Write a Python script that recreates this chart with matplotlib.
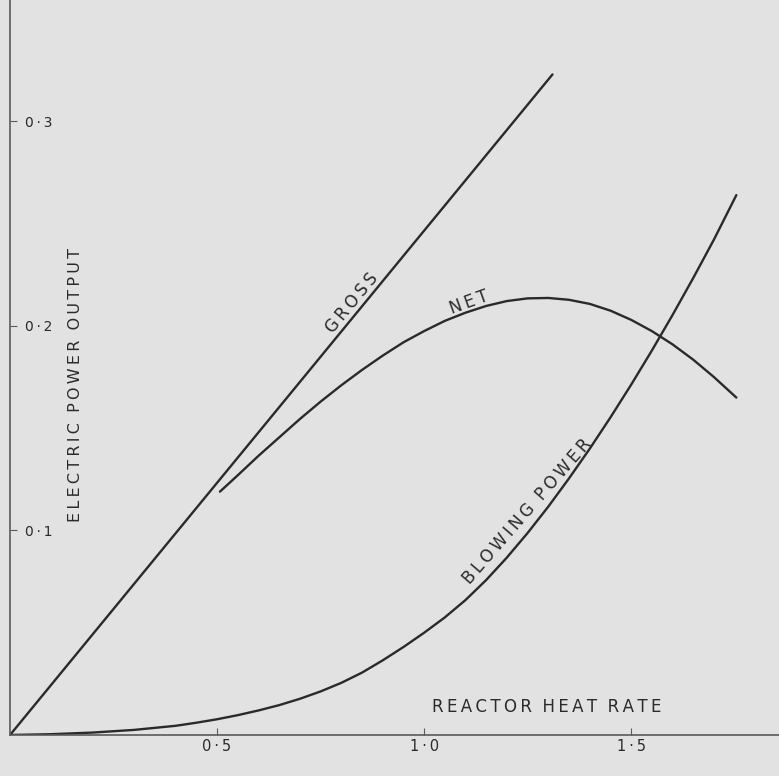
import numpy as np
import matplotlib
matplotlib.use("Agg")
import matplotlib.pyplot as plt

# values
gross_x = [0.0, 0.5, 1.0, 1.31]
gross_y = [0.0, 0.1233, 0.2466, 0.323]

net_x = [0.507, 0.55, 0.60, 0.65, 0.70, 0.75, 0.80, 0.85, 0.90, 0.95, 1.00, 1.05, 1.10,
         1.15, 1.20, 1.25, 1.30, 1.35, 1.40, 1.45, 1.50, 1.55, 1.60, 1.65, 1.70, 1.754]
net_y = [0.119, 0.127, 0.1365, 0.1455, 0.1545, 0.163, 0.171, 0.1785, 0.1855, 0.192, 0.1975,
         0.2025, 0.2065, 0.2098, 0.2122, 0.2135, 0.2137, 0.2128, 0.2108, 0.2075, 0.2030,
         0.1975, 0.1910, 0.1835, 0.1750, 0.1650]

blow_x = [0.0, 0.1, 0.2, 0.3, 0.4, 0.45, 0.5, 0.55, 0.6, 0.65, 0.7, 0.75, 0.8, 0.85, 0.9,
          0.95, 1.0, 1.05, 1.1, 1.15, 1.2, 1.25, 1.3, 1.35, 1.4, 1.45, 1.5, 1.55, 1.6,
          1.65, 1.7, 1.754]
blow_y = [0.0, 0.0004, 0.0012, 0.0025, 0.0045, 0.0060, 0.0077, 0.0097, 0.0120, 0.0146,
          0.0177, 0.0213, 0.0255, 0.0305, 0.0365, 0.0430, 0.0500, 0.0575, 0.0660, 0.0758,
          0.0868, 0.0988, 0.1117, 0.1255, 0.1400, 0.1553, 0.1713, 0.1880, 0.2054, 0.2235,
          0.2423, 0.2640]

x_ticks = [0.5, 1.0, 1.5]
x_ticklabels = ["0·5", "1·0", "1·5"]
y_ticks = [0.1, 0.2, 0.3]
y_ticklabels = ["0·1", "0·2", "0·3"]

ink = "#2a2a2a"
paper = "#e2e2e2"
ts = "\u2009"  # thin space for the wide lettering


def spaced(s):
    return "  ".join(ts.join(word) for word in s.split())


fig = plt.figure(figsize=(7.79, 7.76), dpi=100, facecolor=paper)
ax = fig.add_axes([10 / 779, 41 / 776, 1 - 10 / 779, 1 - 41 / 776])
ax.set_facecolor(paper)

line_kw = dict(color=ink, lw=1.7, solid_joinstyle="round", solid_capstyle="round")
ax.plot(gross_x, gross_y, **line_kw)
ax.plot(net_x, net_y, **line_kw)
ax.plot(blow_x, blow_y, **line_kw)

ax.set_xlim(0, 1.857)
ax.set_ylim(0, 0.3594)

for side in ["top", "right"]:
    ax.spines[side].set_visible(False)
for side in ["left", "bottom"]:
    ax.spines[side].set_color("#5a5a5a")
    ax.spines[side].set_linewidth(1.2)

ax.set_xticks(x_ticks)
ax.set_xticklabels([ts.join(t) for t in x_ticklabels])
ax.set_yticks(y_ticks)
ax.set_yticklabels([ts.join(t) for t in y_ticklabels])
ax.tick_params(axis="both", direction="in", length=5, color="#5a5a5a",
               labelsize=10.5, labelcolor=ink)
ax.tick_params(axis="x", pad=3)
ax.tick_params(axis="y", pad=-11, labelsize=10)
for lab in ax.get_yticklabels():
    lab.set_ha("left")

txt = dict(color=ink, ha="center", va="center", rotation_mode="anchor")
ax.text(0.157, 0.171, spaced("ELECTRIC POWER OUTPUT"), rotation=90, fontsize=11.5, **txt)
ax.text(1.297, 0.0137, spaced("REACTOR HEAT RATE"), rotation=0, fontsize=12, **txt)
ax.text(0.826, 0.2112, spaced("GROSS"), rotation=50.5, fontsize=12, **txt)
ax.text(1.109, 0.2117, spaced("NET"), rotation=20, fontsize=12, **txt)
ax.text(1.249, 0.1095, spaced("BLOWING POWER"), rotation=49, fontsize=12, **txt)

fig.savefig("out.png", dpi=100, facecolor=paper)
